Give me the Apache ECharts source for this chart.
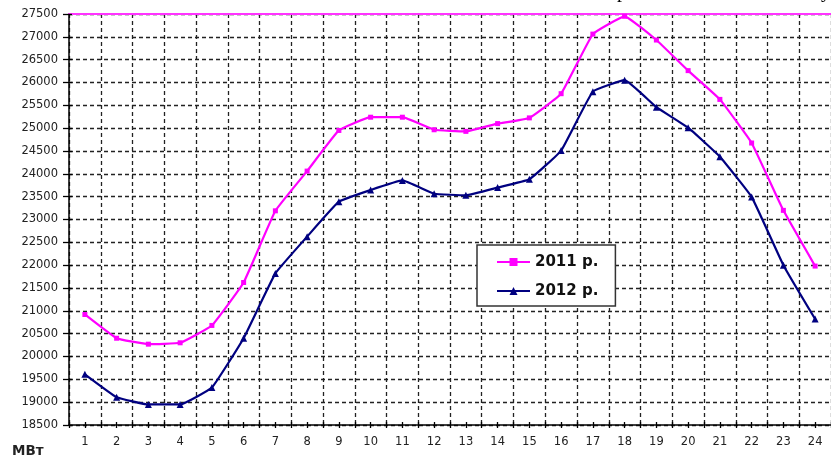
<!DOCTYPE html>
<html>
<head>
<meta charset="utf-8">
<script src="https://cdn.jsdelivr.net/npm/echarts@6/dist/echarts.min.js"></script>
<style>
html,body{margin:0;padding:0;background:#fff;}
#chart{width:831px;height:459px;}
</style>
</head>
<body>
<div id="chart"></div>
<script>
var hours = ['1','2','3','4','5','6','7','8','9','10','11','12','13','14','15','16','17','18','19','20','21','22','23','24'];
var series2011 = [20920, 20400, 20270, 20300, 20680, 21620, 23190, 24060, 24950, 25240, 25240, 24965, 24930, 25100, 25225, 25755, 27060, 27450, 26930, 26260, 25630, 24675, 23200, 21980];
var series2012 = [19610, 19110, 18950, 18950, 19320, 20400, 21820, 22625, 23390, 23645, 23855, 23565, 23530, 23700, 23880, 24510, 25800, 26050, 25460, 25010, 24375, 23495, 22000, 20820];
var legendNames = ['2011 р.', '2012 р.'];
var unitLabel = 'МВт';
var yMin = 18500, yMax = 27500, yStep = 500;

var chart = echarts.init(document.getElementById('chart'), null, {renderer: 'canvas'});
var labelFont = {fontFamily: 'DejaVu Sans', fontSize: 11.5, color: '#222'};
var gridDash = {color: '#222', width: 1.3, type: [4, 3]};

function tickAxis(alignLabel, inside) {
  return {
    type: 'category', data: hours, position: 'bottom', gridIndex: 0,
    axisLine: {show: false},
    axisLabel: {show: false},
    splitLine: {show: false},
    axisTick: {show: true, alignWithLabel: alignLabel, inside: inside, length: 3, lineStyle: {color: '#000', width: 1.3}}
  };
}

var option = {
  animation: false,
  backgroundColor: '#fff',
  grid: {left: 69, top: 14, width: 764, height: 411, containLabel: false},
  xAxis: [
    {
      type: 'category', data: hours, position: 'bottom', boundaryGap: true,
      axisLine: {show: true, lineStyle: {color: '#000', width: 1.5}},
      axisTick: {show: true, length: 3, lineStyle: {color: '#000', width: 1.3}},
      axisLabel: Object.assign({margin: 11, interval: 0}, labelFont),
      splitLine: {show: true, lineStyle: gridDash}
    },
    tickAxis(false, true),
    tickAxis(true, false),
    tickAxis(true, true),
    {
      type: 'category', data: hours, position: 'top',
      axisLine: {show: true, lineStyle: {color: '#ff33ff', width: 2}},
      axisTick: {show: false}, axisLabel: {show: false}, splitLine: {show: false}
    }
  ],
  yAxis: [
    {
      type: 'value', min: yMin, max: yMax, interval: yStep,
      axisLine: {show: true, lineStyle: {color: '#000', width: 1.5}},
      axisTick: {show: true, length: 6, lineStyle: {color: '#000', width: 1.3}},
      axisLabel: Object.assign({margin: 11, formatter: function (v) { return String(v); }}, labelFont),
      splitLine: {show: true, lineStyle: gridDash}
    },
    {
      type: 'value', min: yMin, max: yMax, interval: yStep, position: 'left',
      axisLine: {show: false},
      axisTick: {show: true, inside: true, length: 3, lineStyle: {color: '#000', width: 1.3}},
      axisLabel: {show: false}, splitLine: {show: false}
    }
  ],
  legend: {
    show: true, orient: 'vertical', left: 477, top: 245,
    padding: [7, 17, 5, 19], itemGap: 9, itemWidth: 33, itemHeight: 10,
    backgroundColor: '#fff', borderColor: '#333', borderWidth: 1.5, borderRadius: 0,
    textStyle: {fontFamily: 'DejaVu Sans', fontWeight: 'bold', fontSize: 15, color: '#111', lineHeight: 20},
    data: legendNames
  },
  series: [
    {
      name: legendNames[0], type: 'line', data: series2011, smooth: 0.1,
      xAxisIndex: 0, yAxisIndex: 0,
      symbol: 'rect', symbolSize: 5, showSymbol: true,
      lineStyle: {color: '#ff00ff', width: 2.2},
      itemStyle: {color: '#ff00ff'}
    },
    {
      name: legendNames[1], type: 'line', data: series2012, smooth: 0.1,
      xAxisIndex: 0, yAxisIndex: 0,
      symbol: 'triangle', symbolSize: 7, showSymbol: true,
      lineStyle: {color: '#000080', width: 2.2},
      itemStyle: {color: '#000080'}
    }
  ],
  graphic: [
    {type: 'text', left: 12, top: 444, style: {text: unitLabel, fontFamily: 'DejaVu Sans', fontWeight: 'bold', fontSize: 13.5, fill: '#222'}},
    {type: 'text', x: 617, y: -18, style: {text: 'р', fontFamily: 'Liberation Serif', fontSize: 20, fill: '#000', verticalAlign: 'top'}},
    {type: 'text', x: 821, y: -18, style: {text: 'у', fontFamily: 'Liberation Serif', fontSize: 20, fill: '#000', verticalAlign: 'top'}}
  ]
};
chart.setOption(option);
</script>
</body>
</html>
